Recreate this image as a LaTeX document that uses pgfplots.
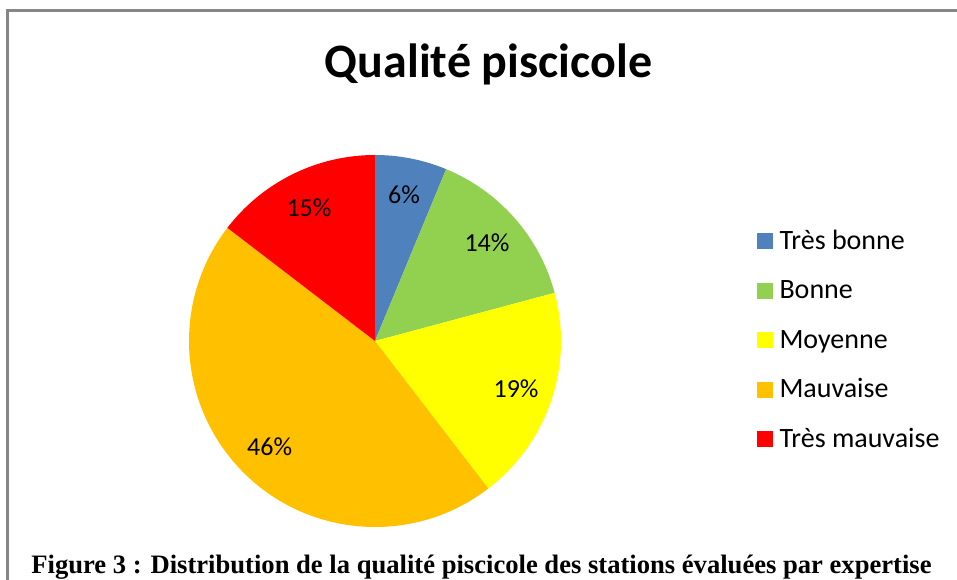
\documentclass[border=0pt]{standalone}
\usepackage{fontspec}
\setmainfont{Carlito}
\newfontfamily\capfont{Liberation Serif}
\usepackage{pgfplots}
\usepackage{pgfplotstable}
\pgfplotsset{compat=1.18}

\definecolor{tbonne}{HTML}{4F81BD}
\definecolor{bonne}{HTML}{92D050}
\definecolor{moyenne}{HTML}{FFFF00}
\definecolor{mauvaise}{HTML}{FFC000}
\definecolor{tmauvaise}{HTML}{FF0000}
\definecolor{framegray}{HTML}{868686}

% share of stations per class (pie angles), label as printed
\pgfplotstableread{
name              value  label col
{Très bonne}      6.25   6     tbonne
{Bonne}           14.58  14    bonne
{Moyenne}         18.75  19    moyenne
{Mauvaise}        45.83  46    mauvaise
{Très mauvaise}   14.58  15    tmauvaise
}\piedata

\begin{document}
\begin{tikzpicture}
\begin{axis}[
  width=957pt, height=580pt, scale only axis,
  xmin=0, xmax=957, ymin=0, ymax=580, y dir=reverse,
  hide axis, clip=false,
]
% frame
\draw[framegray, line width=2.2pt] (axis cs:7.5,580) -- (axis cs:7.5,10.5) -- (axis cs:957,10.5);
\node[font=\fontsize{48}{56}\selectfont\bfseries, anchor=base] at (axis cs:488.5,78) {Qualité piscicole};

\pgfplotstablegetrowsof{\piedata}
\pgfmathtruncatemacro\last{\pgfplotsretval-1}
\def\cum{0}
\pgfplotsforeachungrouped \i in {0,...,\last}{
  \pgfplotstablegetelem{\i}{value}\of\piedata \let\v\pgfplotsretval
  \pgfplotstablegetelem{\i}{col}\of\piedata \let\c\pgfplotsretval
  \pgfplotstablegetelem{\i}{label}\of\piedata \let\l\pgfplotsretval
  \pgfplotstablegetelem{\i}{name}\of\piedata \let\n\pgfplotsretval
  \pgfmathsetmacro\aS{90-3.6*\cum}
  \pgfmathsetmacro\aE{90-3.6*(\cum+\v)}
  \pgfmathsetmacro\aM{(\aS+\aE)/2}
  \pgfmathsetmacro\lx{375+149*cos(\aM)}
  \pgfmathsetmacro\ly{341-149*sin(\aM)}
  \pgfmathsetmacro\sy{233+49.5*\i}
  \pgfmathsetmacro\sb{249.3+49.5*\i}
  \pgfmathsetmacro\tb{249+49.5*\i}
  \edef\doit{%
    \noexpand\fill[\c] (axis cs:375,341) -- ++(\aS:186pt) arc[start angle=\aS, end angle=\aE, radius=186pt] -- cycle;
    \noexpand\node[font=\noexpand\fontsize{26}{30}\noexpand\selectfont, inner sep=0pt] at (axis cs:\lx,\ly) {\l\noexpand\%};
    \noexpand\fill[\c] (axis cs:756.7,\sy) rectangle (axis cs:772.7,\sb);
    \noexpand\node[font=\noexpand\fontsize{28}{32}\noexpand\selectfont, inner sep=0pt, anchor=base west] at (axis cs:779.3,\tb) {\n};
  }%
  \doit
  \pgfmathsetmacro\cum{\cum+\v}
}

\node[font=\capfont\fontsize{26.6}{30}\selectfont\bfseries, anchor=base, inner sep=0pt] at (axis cs:481.5,573.5)
  {Figure 3 : Distribution de la qualité piscicole des stations évaluées par expertise};
\end{axis}
\pgfresetboundingbox
\path (0,0) rectangle (957pt,580pt);
\end{tikzpicture}
\end{document}
